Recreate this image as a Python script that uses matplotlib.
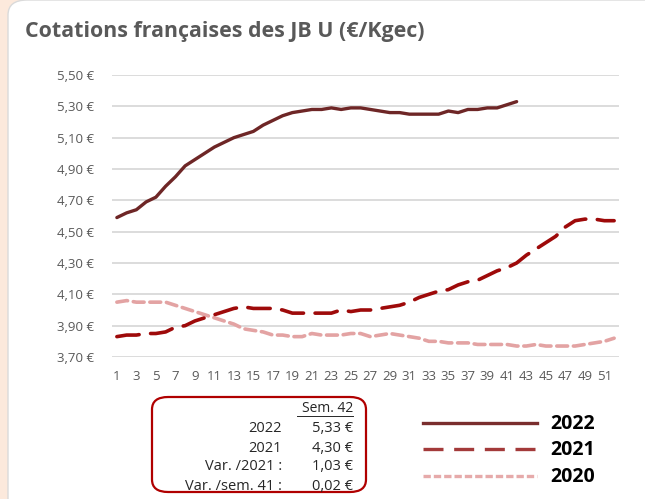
import matplotlib
matplotlib.use("Agg")
import matplotlib.pyplot as plt
from matplotlib.patches import FancyBboxPatch
from matplotlib.lines import Line2D

title = "Cotations françaises des JB U (€/Kgec)"
weeks = list(range(1, 53))
y2022 = [4.59, 4.62, 4.64, 4.69, 4.72, 4.79, 4.85, 4.92, 4.96, 5.00,
         5.04, 5.07, 5.10, 5.12, 5.14, 5.18, 5.21, 5.24, 5.26, 5.27,
         5.28, 5.28, 5.29, 5.28, 5.29, 5.29, 5.28, 5.27, 5.26, 5.26,
         5.25, 5.25, 5.25, 5.25, 5.27, 5.26, 5.28, 5.28, 5.29, 5.29,
         5.31, 5.33]
y2021 = [3.83, 3.84, 3.84, 3.85, 3.85, 3.86, 3.89, 3.90, 3.93, 3.95,
         3.97, 3.99, 4.01, 4.02, 4.01, 4.01, 4.01, 4.00, 3.98, 3.98,
         3.98, 3.98, 3.98, 4.00, 3.99, 4.00, 4.00, 4.01, 4.02, 4.03,
         4.05, 4.08, 4.10, 4.12, 4.13, 4.16, 4.18, 4.19, 4.22, 4.25,
         4.27, 4.30, 4.35, 4.39, 4.43, 4.47, 4.53, 4.57, 4.58, 4.58,
         4.57, 4.57]
y2020 = [4.05, 4.06, 4.05, 4.05, 4.05, 4.05, 4.03, 4.01, 3.99, 3.97,
         3.95, 3.93, 3.91, 3.88, 3.87, 3.86, 3.84, 3.84, 3.83, 3.83,
         3.85, 3.84, 3.84, 3.84, 3.85, 3.85, 3.83, 3.84, 3.85, 3.84,
         3.83, 3.82, 3.80, 3.80, 3.79, 3.79, 3.79, 3.78, 3.78, 3.78,
         3.78, 3.77, 3.77, 3.78, 3.77, 3.77, 3.77, 3.77, 3.78, 3.79,
         3.80, 3.82]
yticks = [3.70, 3.90, 4.10, 4.30, 4.50, 4.70, 4.90, 5.10, 5.30, 5.50]
series_names = ["2022", "2021", "2020"]
table_header = "Sem. 42"
table_labels = ["2022", "2021", "Var. /2021 :", "Var. /sem. 41 :"]
table_values = ["5,33 €", "4,30 €", "1,03 €", "0,02 €"]

FONT = ["Open Sans", "DejaVu Sans"]
plt.rcParams['font.family'] = FONT
GREY = "#595959"
TXT = "#262626"
C2022 = "#6E2626"
C2021 = "#9E0A0A"
C2020 = "#E3A3A3"

W, H = 645, 499
fig = plt.figure(figsize=(W / 100, H / 100), dpi=100)
fig.patch.set_facecolor("#FCE9DC")

# white card
card = FancyBboxPatch((8 / W, -20 / H), (W + 20 - 8) / W, (H + 20) / H,
                      boxstyle="round,pad=0,rounding_size=0.03",
                      transform=fig.transFigure, facecolor="white",
                      edgecolor="#DADADA", linewidth=1.0, zorder=-10)
fig.patches.append(card)

fig.text(25 / W, 1 - 31 / H, title, fontsize=15.4, fontweight="bold",
         color=GREY, ha="left", va="center")

ax = fig.add_axes([112 / W, 1 - 357 / H, 507 / W, 282 / H], zorder=2)
ax.set_facecolor("none")
ax.set_xlim(0.5, 52.5)
ax.set_ylim(3.70, 5.50)
ax.set_yticks(yticks)
ax.set_yticklabels([f"{v:.2f} €".replace(".", ",") for v in yticks])
ax.set_xticks(weeks[::2])
ax.set_xticklabels([str(w) for w in weeks[::2]])
ax.tick_params(length=0, labelsize=9.5, labelcolor=GREY)
ax.tick_params(axis="y", pad=13)
ax.tick_params(axis="x", pad=9)
for s in ax.spines.values():
    s.set_visible(False)
ax.grid(axis="y", color="#D9D9D9", linewidth=1.3)
ax.set_axisbelow(True)

ax.plot(weeks[:len(y2020)], y2020, color=C2020, linewidth=2.6,
        dashes=(3, 1.6), dash_capstyle="round")
ax.plot(weeks[:len(y2021)], y2021, color=C2021, linewidth=2.6,
        dashes=(6.2, 3.2), dash_capstyle="round")
ax.plot(weeks[:len(y2022)], y2022, color=C2022, linewidth=2.4,
        solid_capstyle="round")

# legend (manual, bottom right)
leg_y = [423, 449, 476]
leg_styles = [dict(color="#7A2E2E", linewidth=2.4),
              dict(color="#A33A3A", linewidth=2.4, dashes=(6, 3.2)),
              dict(color="#E6AAAA", linewidth=2.4, dashes=(2.2, 0.9))]
for name, yy, st in zip(series_names, leg_y, leg_styles):
    ln = Line2D([423 / W, 537 / W], [1 - yy / H, 1 - yy / H],
                transform=fig.transFigure, **st)
    fig.lines.append(ln)
    fig.text(550 / W, 1 - (yy + 1) / H, name, fontsize=14, fontweight="bold",
             color="black", ha="left", va="center")

# summary box
box = FancyBboxPatch((152 / W, 1 - 492 / H), (366 - 152) / W, (492 - 397) / H,
                     boxstyle="round,pad=0,rounding_size=0.025",
                     transform=fig.transFigure, facecolor="white",
                     edgecolor="#B00000", linewidth=1.6, zorder=1)
fig.patches.append(box)
fig.text(353 / W, 1 - 409 / H, table_header, fontsize=10, color=TXT,
         ha="right", va="center", zorder=3)
fig.lines.append(Line2D([297 / W, 353 / W], [1 - 416 / H, 1 - 416 / H],
                        transform=fig.transFigure, color=TXT, linewidth=0.7,
                        zorder=3))
row_y = [429, 448, 467, 486]
for lab, val, yy in zip(table_labels, table_values, row_y):
    fig.text(282 / W, 1 - yy / H, lab, fontsize=10.5, color=TXT,
             ha="right", va="center", zorder=3)
    fig.text(353 / W, 1 - yy / H, val, fontsize=10.5, color=TXT,
             ha="right", va="center", zorder=3)

fig.savefig("out.png", dpi=100, facecolor=fig.get_facecolor())
